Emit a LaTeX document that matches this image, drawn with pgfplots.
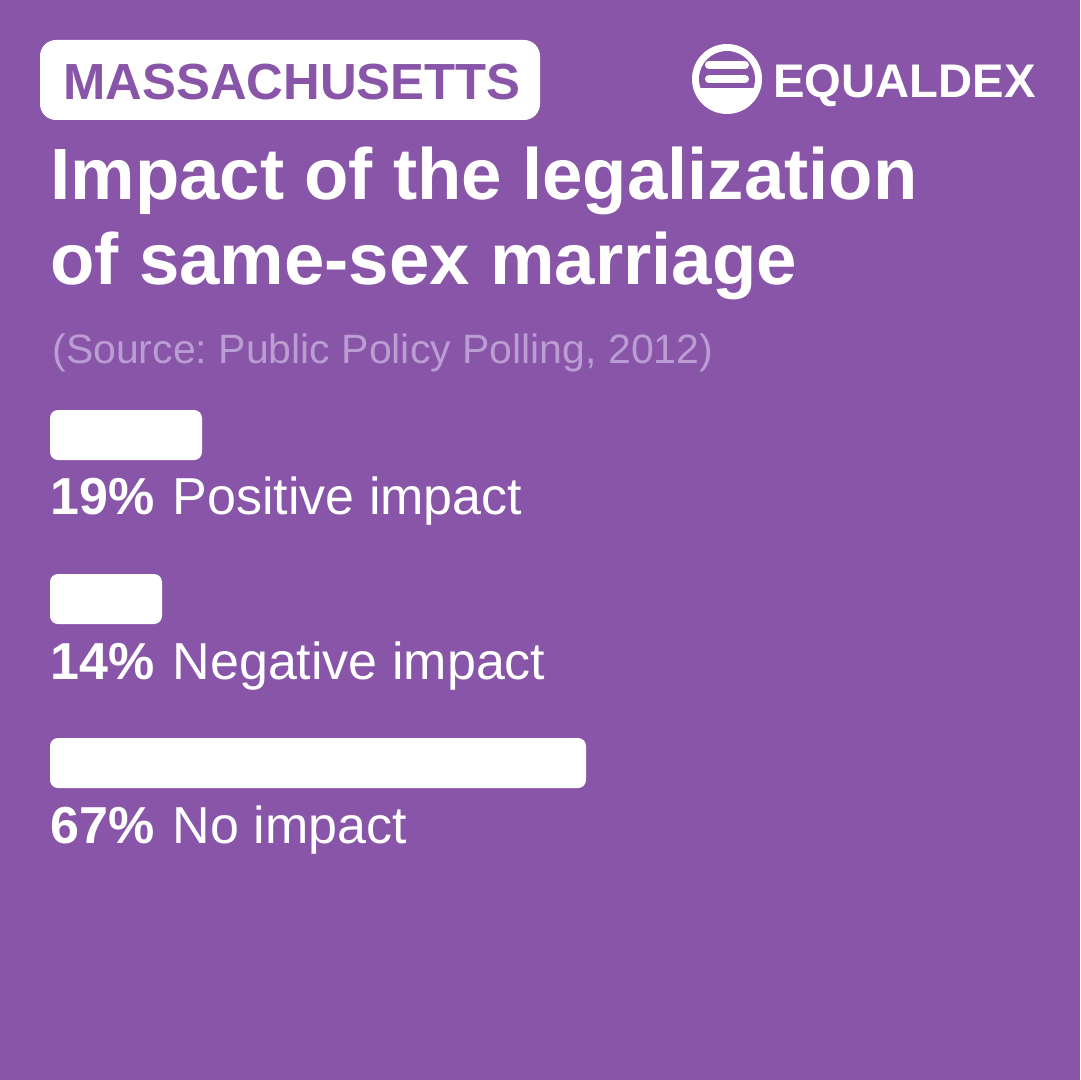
\documentclass[border=0pt]{standalone}
\usepackage{pgfplots}
\pgfplotsset{compat=1.18}
\usepackage{fontspec}
\setmainfont{Liberation Sans}
\frenchspacing
\definecolor{bg}{HTML}{8855A8}
\definecolor{src}{HTML}{BA9DD2}
\begin{document}
\begin{tikzpicture}
\begin{scope}[x=0.5pt,y=-0.5pt]
\fill[bg] (0,0) rectangle (1080,1080);
\useasboundingbox (0,0) rectangle (1080,1080);
% badge
\fill[white, rounded corners=8pt] (40,40) rectangle (540,120);
\node[anchor=base west, inner sep=0pt, text=bg, font=\bfseries\fontsize{25.4}{26}\selectfont] at (63,100) {MASSACHUSETTS};
% logo
\fill[white] (727,79) circle (17.5pt);
\begin{scope}
\clip (727,79) circle (14pt);
\fill[bg, rounded corners=3pt] (690,30) rectangle (764,88);
\end{scope}
\draw[white, line width=4pt, line cap=round] (709,65) -- (745,65);
\draw[white, line width=4pt, line cap=round] (709,79) -- (745,79);
\node[anchor=base west, inner sep=0pt, text=white, font=\bfseries\fontsize{23.6}{24}\selectfont] at (773,98) {EQUALDEX};
% title
\node[anchor=base west, inner sep=0pt, text=white, font=\bfseries\fontsize{36.3}{40}\selectfont] at (50,200) {Impact of the legalization};
\node[anchor=base west, inner sep=0pt, text=white, font=\bfseries\fontsize{36.3}{40}\selectfont] at (50,285) {of same-sex marriage};
\node[anchor=base west, inner sep=0pt, text=src, font=\fontsize{20.5}{22}\selectfont] at (52,364) {(Source: Public Policy Polling, 2012)};
\end{scope}
\begin{axis}[at={(25pt,-540pt)}, anchor=south west,
  scale only axis, width=400pt, height=540pt,
  xmin=0, xmax=100, ymin=0, ymax=1080, y dir=reverse,
  hide axis, clip=false,
  xbar, bar width=25pt, bar shift=0pt]
\addplot[fill=white, draw=none, rounded corners=4pt] coordinates {(19,435) (14,599) (67,763)};
\node[anchor=base west, inner sep=0pt, text=white, font=\fontsize{26}{27}\selectfont] at (axis cs:0,514) {\textbf{19\%}\hspace{0.35em}Positive impact};
\node[anchor=base west, inner sep=0pt, text=white, font=\fontsize{26}{27}\selectfont] at (axis cs:0,679) {\textbf{14\%}\hspace{0.35em}Negative impact};
\node[anchor=base west, inner sep=0pt, text=white, font=\fontsize{26}{27}\selectfont] at (axis cs:0,843) {\textbf{67\%}\hspace{0.35em}No impact};
\end{axis}
\end{tikzpicture}
\end{document}
